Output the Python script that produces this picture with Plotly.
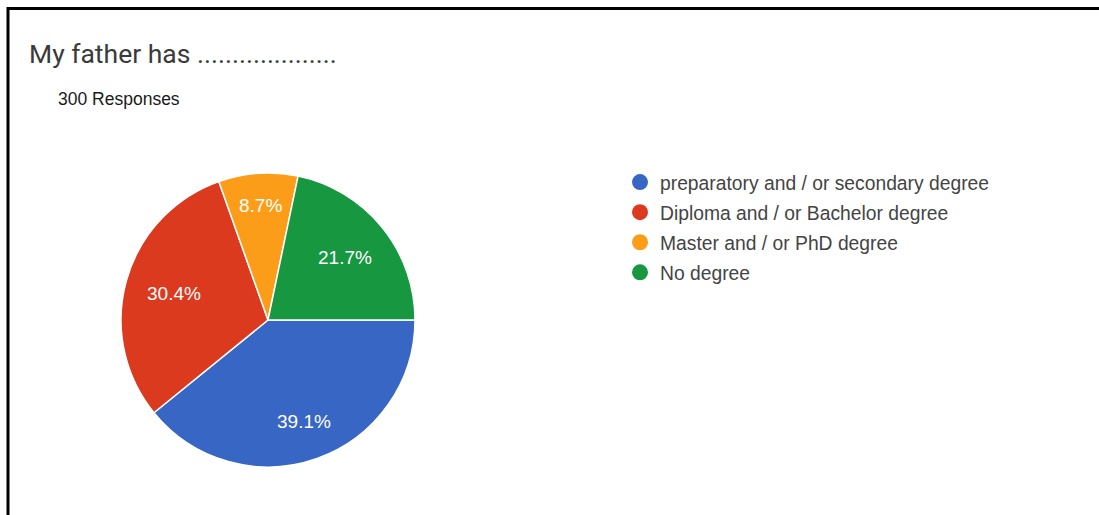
import math
import plotly.graph_objects as go

# Survey answers: father's highest qualification (300 responses)
categories = [
    "preparatory and / or secondary degree",
    "Diploma and / or Bachelor degree",
    "Master and / or PhD degree",
    "No degree",
]
shares = [39.1, 30.4, 8.7, 21.7]  # percent of respondents
colors = ["#3866c4", "#db3a1e", "#fb9d19", "#179740"]

title_text = "My father has ...................."
subtitle_text = "300 Responses"

W, H = 1099, 515

# pie placement in pixels -> paper fractions
cx, cy, r = 268, 320, 147
start_deg = 90          # first slice begins at 3 o'clock, runs clockwise
label_size = 19

fig = go.Figure()

fig.add_trace(go.Pie(
    labels=categories,
    values=shares,
    text=[f"{v}%" for v in shares],
    textinfo="none",
    marker=dict(colors=colors, line=dict(color="white", width=1.5)),
    sort=False,
    direction="clockwise",
    rotation=start_deg,
    showlegend=False,
    hoverinfo="label+text",
    domain=dict(x=[(cx - r) / W, (cx + r) / W],
                y=[(H - cy - r) / H, (H - cy + r) / H]),
))

# slice labels: each one sits on its slice bisector, pushed out so the
# outer edge of the text box lands at a fixed fraction of the radius
annotations = []
total = sum(shares)
acc = 0.0
for v in shares:
    mid = math.radians(start_deg + (acc + v / 2) / total * 360)
    acc += v
    ux, uy = math.sin(mid), -math.cos(mid)        # screen direction (y down)
    txt = f"{v}%"
    half_w = len(txt) * 0.56 * label_size / 2
    half_h = label_size * 0.52
    extent = abs(ux) * half_w + abs(uy) * half_h
    d = 0.855 * r - extent
    px, py = cx + ux * d, cy + uy * d
    annotations.append(dict(
        text=txt, x=px / W, y=1 - py / H, xref="paper", yref="paper",
        xanchor="center", yanchor="middle", showarrow=False,
        font=dict(family="Liberation Sans, Arial", size=label_size, color="white"),
    ))

# circular legend swatches, one entry per category
for i, (name, col) in enumerate(zip(categories, colors)):
    fig.add_trace(go.Scatter(
        x=[None], y=[None], mode="markers", name=name,
        legendgroup=f"g{i}",
        marker=dict(symbol="circle", size=16, color=col),
    ))

annotations += [
    dict(text=title_text, x=27 / W, y=1 - 54 / H, xref="paper", yref="paper",
         xanchor="left", yanchor="middle", showarrow=False,
         font=dict(family="Roboto", size=26.5, color="#3a3a3a")),
    dict(text=subtitle_text, x=56 / W, y=1 - 99 / H, xref="paper", yref="paper",
         xanchor="left", yanchor="middle", showarrow=False,
         font=dict(family="Liberation Sans, Arial", size=17.5, color="#1a1a1a")),
]

hidden_axis = dict(visible=False, showline=False, zeroline=False, showgrid=False)

# open frame along the left and top edges (paper fractions)
fx, fy = 8 / W, 1 - 8.5 / H
frame_path = f"M {fx},0 L {fx},{fy} L 1.01,{fy}"

fig.update_layout(
    width=W, height=H,
    margin=dict(l=0, r=0, t=0, b=0),
    paper_bgcolor="white",
    plot_bgcolor="white",
    xaxis=hidden_axis,
    yaxis=hidden_axis,
    legend=dict(
        x=(630 - 10) / W, y=1 - 163 / H,
        xanchor="left", yanchor="top",
        font=dict(family="Liberation Sans, Arial", size=19.3, color="#444444"),
        tracegroupgap=2,
        itemwidth=30,
        bgcolor="rgba(0,0,0,0)",
    ),
    annotations=annotations,
    shapes=[
        dict(type="path", xref="paper", yref="paper", path=frame_path,
             line=dict(color="black", width=3), fillcolor="rgba(0,0,0,0)"),
    ],
)

fig.write_html("out.html", config={"displayModeBar": False})
